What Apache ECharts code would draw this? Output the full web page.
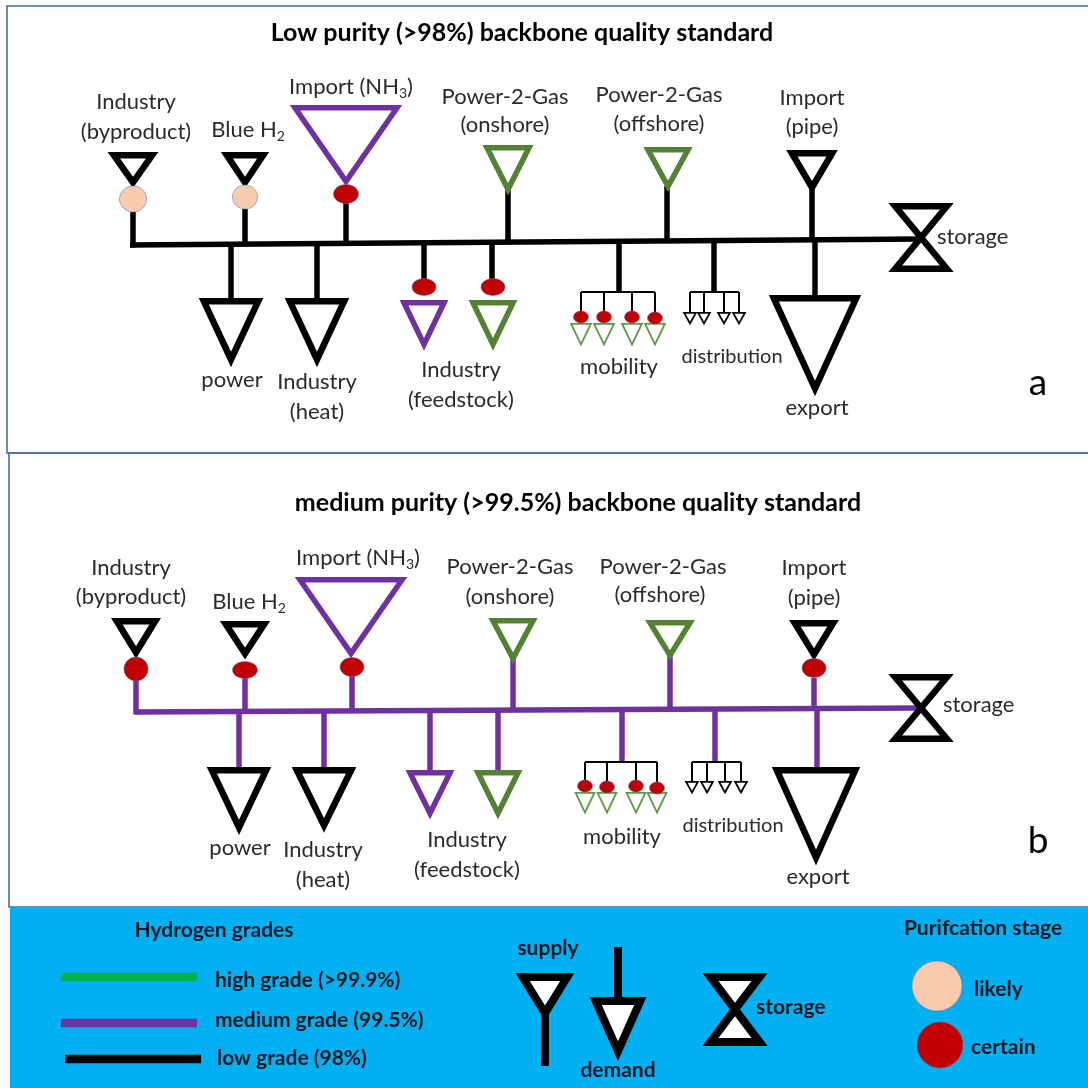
<!DOCTYPE html>
<html><head><meta charset="utf-8">
<script src="https://cdn.jsdelivr.net/npm/echarts@6/dist/echarts.min.js"></script>
<style>html,body{margin:0;padding:0;background:#fff}#c{width:1088px;height:1088px}</style>
</head><body><div id="c"></div><script>
// ---------------- DATA ----------------
// decorative boxes: [x0, y0, x1, y1]
const boxes = [[7,6,1100,453],[9,453,1100,907],[10,907,1100,1100]];
const boxKinds = ['frame','frame','legend'];

// thick pipes, panel a (low grade backbone): [x1,y1,x2,y2]
const pipesA = [
 [130,245,921,239],
 [133,212,133,247.5],[245,209,245,244],[346,203,346,243],[508,188,508,242],[667,186,667,241],[812,187,812,240],
 [815,240,815,298],[231,244,231,298],[317,244,317,298],[424,243,424,284],[492,243,492,284],[619,241,619,292],[714,241,714,292]
];
// thick pipes, panel b (medium grade backbone)
const pipesB = [
 [135,712,921,708],
 [136,679,136,714.5],[245,678,245,712],[352,676,352,711],[513,655,513,710],[670,652,670,709],[814,678,814,708.5],
 [817,708,817,768],[239,711,239,768],[324,711,324,768],[430,711,430,771],[498,711,498,771],[622,709,622,762],[715,709,715,762]
];
// thin distribution branches (both panels)
const branches = [
 [581,292,655,292],[581,292,581,313],[604,292,604,313],[632,292,632,313],[655,292,655,313],
 [690,292,739,292],[690,292,690,313],[704,292,704,313],[724,292,724,313],[739,292,739,313],
 [585,762,657,762],[585,762,585,783],[607,762,607,783],[636,762,636,783],[657,762,657,783],
 [692,762,741,762],[692,762,692,781],[707,762,707,781],[725,762,725,781],[741,762,741,781]
];
// supply / demand nodes: [centre x, top y, apex y, half width]
const nodes = [
 [133,152,188,25],[245,152,188,24],[346,105,186,56],[508,145,194,26],[668,147,191,25],[812,150,193,26],
 [231,298,365,33],[317,298,365,33],[424,300,349,25],[493,300,349,25],[815,295,394,47],
 [136,618,658,25],[245,621,659,25],[351,577,658,56],[513,618,663,25],[670,620,660,25],[814,620,660,25],
 [239,767,833,33],[324,767,831,33],[430,770,818,25],[498,770,818,25],[816,767,863,45]
];
const nodeGrades = ['low','low','medium','high','high','low','low','low','medium','high','low',
 'low','low','medium','high','high','low','low','low','medium','high','low'];
// small end-use nodes (mobility & distribution)
const smallNodes = [
 [581,323,346,11.5],[604,323,346,11.5],[632,323,346,11.5],[655,323,346,11.5],
 [690,312,325,7.5],[704,312,325,7.5],[724,312,325,7.5],[739,312,325,7.5],
 [585,792,814,11],[607,792,814,11],[636,792,814,11],[657,792,814,11],
 [692,781,794,7.5],[707,781,794,7.5],[725,781,794,7.5],[741,781,794,7.5]
];
const smallGrades = ['high','high','high','high','low','low','low','low','high','high','high','high','low','low','low','low'];
// storage: [centre x, top y, bottom y, half width]
const storages = [[921,203,272,31],[921,674,742,31]];
// purification stages: [cx, cy, rx, ry]
const markers = [
 [133,199,13.5,13],[245,197,12.5,12],[346,194,12.5,9.5],[424,287,12,8.5],[493,287,12,8.5],
 [581,317,7.5,6],[604,317,7.5,6],[632,317,7.5,6],[655,318,7.5,6],
 [136,669,12,12],[245,670,12.5,8.5],[352,667,12,9.5],[814,668,12,9.5],
 [585,786,7.5,6],[607,787,7.5,6],[636,786,7.5,6],[657,788,7.5,6]
];
const markerStages = ['likely','likely','certain','certain','certain','certain','certain','certain','certain',
 'certain','certain','certain','certain','certain','certain','certain','certain'];

// legend
const legendLines = [[61,977,197,977],[61,1023,197,1023],[65,1059,201,1059]];
const legendGrades = ['high','medium','low'];
const legendStems = [[545,1014,545,1066],[618,947,618,999]];
const legendNodes = [[545,973,1020,29.5],[618,997,1058,29.5]];
const legendStorage = [[735,973,1046,31]];
const legendMarkers = [[937,986,25,25],[940,1045,23,23]];
const legendStages = ['likely','certain'];

// texts: [text, x, y, kind]
const labelsA = [
 ['Low purity (>98%) backbone quality standard',522,33,'title'],
 ['Industry',136,102,'label'],['(byproduct)',136,132,'label'],
 ['Blue H{sub|2}',248,130,'label'],
 ['Import (NH{sub|3})',351,87,'label'],
 ['Power-2-Gas',505,97,'label'],['(onshore)',505,125,'label'],
 ['Power-2-Gas',659,95,'label'],['(offshore)',659,124,'label'],
 ['Import',812,98,'label'],['(pipe)',812,127,'label'],
 ['power',232,380,'label'],
 ['Industry',317,382,'label'],['(heat)',317,412,'label'],
 ['Industry',461,370,'label'],['(feedstock)',461,400,'label'],
 ['mobility',619,367,'label'],
 ['distribution',732,357,'small'],
 ['export',817,408,'label'],
 ['storage',937,237,'labelLeft'],
 ['a',1038,383,'panel']
];
const labelsB = [
 ['medium purity (>99.5%) backbone quality standard',578,503,'title'],
 ['Industry',131,568,'label'],['(byproduct)',131,597,'label'],
 ['Blue H{sub|2}',249,602,'label'],
 ['Import (NH{sub|3})',358,558,'label'],
 ['Power-2-Gas',510,567,'label'],['(onshore)',510,597,'label'],
 ['Power-2-Gas',663,567,'label'],['(offshore)',660,595,'label'],
 ['Import',814,568,'label'],['(pipe)',814,598,'label'],
 ['power',240,848,'label'],
 ['Industry',323,850,'label'],['(heat)',323,880,'label'],
 ['Industry',467,840,'label'],['(feedstock)',467,870,'label'],
 ['mobility',622,837,'label'],
 ['distribution',733,826,'small'],
 ['export',818,877,'label'],
 ['storage',943,705,'labelLeft'],
 ['b',1038,841,'panel']
];
const labelsLegend = [
 ['Hydrogen grades',214,930,'legendTitle'],
 ['high grade (>99.9%)',215,980,'legendL'],
 ['medium grade (99.5%)',215,1020,'legendL'],
 ['low grade (98%)',217,1058,'legendL'],
 ['supply',548,948,'legendC'],
 ['demand',618,1070,'legendC'],
 ['storage',756,1007,'legendL'],
 ['Purifcation stage',983,928,'legendTitle'],
 ['likely',974,989,'legendL'],
 ['certain',971,1047,'legendL']
];

// ---------------- STYLES ----------------
const GRADE = {low:'#000000', medium:'#7030A0', high:'#548235'};
const SMALL_GRADE = {low:'#000000', medium:'#7030A0', high:'#5c9a45'};
const LEGEND_GRADE = {low:'#000000', medium:'#7030A0', high:'#00B050'};
const NODE_LW = {low:6.5, medium:5.5, high:5.5};
const STAGE = {likely:'#F8CBAD', certain:'#C00000'};
const FONT = 'Lato, "Open Sans", sans-serif';
const TEXT = {
 title:{size:25, weight:'bold', fill:'#000', align:'center'},
 label:{size:22, weight:'normal', fill:'#2a2a2a', align:'center'},
 small:{size:20, weight:'normal', fill:'#2a2a2a', align:'center'},
 labelLeft:{size:22, weight:'normal', fill:'#2a2a2a', align:'left'},
 panel:{size:37, weight:'normal', fill:'#000', align:'center'},
 legendTitle:{size:21, weight:'bold', fill:'#0b1824', align:'center'},
 legendL:{size:21, weight:'bold', fill:'#0b1824', align:'left'},
 legendC:{size:21, weight:'bold', fill:'#0b1824', align:'center'}
};

// ---------------- SERIES BUILDERS ----------------
function base(data, z, renderItem, encode){
 return {type:'custom', coordinateSystem:'cartesian2d', clip:false, silent:true, animation:false,
   z:z, data:data, encode:encode, renderItem:renderItem};
}
function segSeries(data, colorOf, lw, z){
 return base(data, z, function(params, api){
   const a = api.coord([api.value(0), api.value(1)]);
   const b = api.coord([api.value(2), api.value(3)]);
   return {type:'line', shape:{x1:a[0],y1:a[1],x2:b[0],y2:b[1]},
     style:{stroke:colorOf(params.dataIndex), lineWidth:lw, lineCap:'butt'}};
 }, {x:[0,2], y:[1,3]});
}
function triSeries(data, colorOf, lwOf, fill, z){
 return base(data, z, function(params, api){
   const lw = lwOf(params.dataIndex);
   const cx = api.value(0), top = api.value(1) + lw*0.5, apex = api.value(2) - lw*0.85, hw = api.value(3) - lw*0.9;
   const pts = [api.coord([cx-hw, top]), api.coord([cx+hw, top]), api.coord([cx, apex])];
   return {type:'polygon', shape:{points:pts},
     style:{fill:fill, stroke:colorOf(params.dataIndex), lineWidth:lw, lineJoin:'miter', miterLimit:10}};
 }, {x:0, y:[1,2]});
}
function storageSeries(data, lw, z){
 return base(data, z, function(params, api){
   const cx = api.value(0), top = api.value(1) + lw*0.5, bot = api.value(2) - lw*0.5, hw = api.value(3) - lw*0.8;
   const pts = [api.coord([cx-hw, top]), api.coord([cx+hw, top]), api.coord([cx-hw, bot]), api.coord([cx+hw, bot])];
   return {type:'polygon', shape:{points:pts},
     style:{fill:'#ffffff', stroke:'#000', lineWidth:lw, lineJoin:'miter', miterLimit:10}};
 }, {x:0, y:[1,2]});
}
function markerSeries(data, stageOf, z){
 return base(data, z, function(params, api){
   const c = api.coord([api.value(0), api.value(1)]);
   return {type:'ellipse', shape:{cx:c[0], cy:c[1], rx:api.value(2), ry:api.value(3)},
     style:{fill:STAGE[stageOf(params.dataIndex)], stroke:'rgba(95,115,185,0.55)', lineWidth:1}};
 }, {x:0, y:1});
}
function textSeries(labels, z){
 return base(labels.map(function(l){ return [l[1], l[2]]; }), z, function(params, api){
   const l = labels[params.dataIndex];
   const s = TEXT[l[3]];
   const p = api.coord([api.value(0), api.value(1)]);
   return {type:'text', x:p[0], y:p[1],
     style:{text:l[0], fontFamily:FONT, fontSize:s.size, fontWeight:s.weight, fill:s.fill,
       align:s.align, verticalAlign:'middle',
       rich:{sub:{fontFamily:FONT, fontSize:Math.round(s.size*0.62), fill:s.fill, padding:[12,0,0,0]}}}};
 }, {x:0, y:1});
}

// ---------------- CHART ----------------
const series = [
 base(boxes, 1, function(params, api){
   const a = api.coord([api.value(0), api.value(1)]), b = api.coord([api.value(2), api.value(3)]);
   const legend = boxKinds[params.dataIndex] === 'legend';
   return {type:'rect', shape:{x:a[0], y:a[1], width:b[0]-a[0], height:b[1]-a[1]},
     style: legend ? {fill:'#00B0F0', stroke:null} : {fill:'none', stroke:'#4a6aa6', lineWidth:1.6}};
 }, {x:[0,2], y:[1,3]}),
 segSeries(pipesA, function(){ return GRADE.low; }, 5.5, 2),
 segSeries(pipesB, function(){ return GRADE.medium; }, 5.5, 2),
 segSeries(branches, function(){ return '#000'; }, 2, 2),
 triSeries(nodes, function(i){ return GRADE[nodeGrades[i]]; }, function(i){ return NODE_LW[nodeGrades[i]]; }, '#ffffff', 3),
 triSeries(smallNodes, function(i){ return SMALL_GRADE[smallGrades[i]]; }, function(){ return 1.8; }, '#ffffff', 3),
 storageSeries(storages, 6.5, 3),
 segSeries(legendLines, function(i){ return LEGEND_GRADE[legendGrades[i]]; }, 8.5, 2),
 segSeries(legendStems, function(){ return '#000'; }, 8, 2),
 triSeries(legendNodes, function(){ return '#000'; }, function(){ return 8; }, '#ffffff', 3),
 storageSeries(legendStorage, 8, 3),
 markerSeries(markers, function(i){ return markerStages[i]; }, 4),
 markerSeries(legendMarkers, function(i){ return legendStages[i]; }, 4),
 textSeries(labelsA, 5),
 textSeries(labelsB, 5),
 textSeries(labelsLegend, 5)
];

const chart = echarts.init(document.getElementById('c'), null, {renderer:'canvas'});
chart.setOption({
 animation:false,
 backgroundColor:'#ffffff',
 grid:{left:0, right:0, top:0, bottom:0},
 xAxis:{type:'value', min:0, max:1088, show:false},
 yAxis:{type:'value', min:0, max:1088, inverse:true, show:false},
 series:series
});
</script></body></html>
